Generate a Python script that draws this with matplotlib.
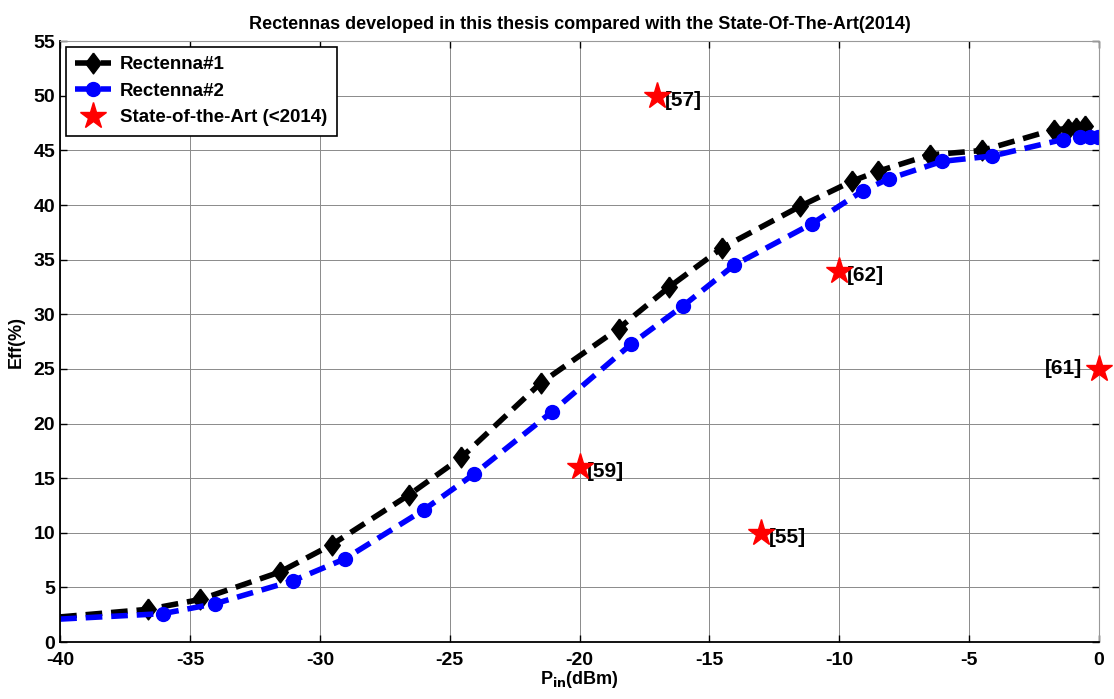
import numpy as np
import matplotlib
matplotlib.use("Agg")
import matplotlib.pyplot as plt

plt.rcParams['font.family'] = ['Liberation Sans', 'DejaVu Sans']
plt.rcParams['font.weight'] = 'bold'
plt.rcParams['axes.unicode_minus'] = False

# Rectenna#1 (black diamonds)
r1_pin = [-40, -36.6, -34.6, -31.55, -29.55, -26.55, -24.55, -21.5, -18.5, -16.55, -14.5,
          -11.5, -9.5, -8.5, -6.5, -4.5, -1.75, -1.2, -0.9, -0.55]
r1_eff = [2.3, 3.0, 3.9, 6.4, 8.9, 13.5, 16.9, 23.7, 28.7, 32.5, 36.1,
          39.9, 42.2, 43.1, 44.6, 45.0, 46.9, 47.0, 47.1, 47.2]
r1_marked = list(range(1, len(r1_pin)))

# Rectenna#2 (blue circles)
r2_pin = [-40, -36.05, -34.05, -31.05, -29.05, -26.0, -24.05, -21.05, -18.0, -16.0, -14.05,
          -11.05, -9.1, -8.1, -6.05, -4.1, -1.4, -0.73, -0.35, -0.05]
r2_eff = [2.1, 2.6, 3.5, 5.6, 7.6, 12.1, 15.4, 21.1, 27.3, 30.8, 34.5,
          38.3, 41.3, 42.4, 44.0, 44.5, 46.0, 46.2, 46.2, 46.2]
r2_marked = list(range(1, len(r2_pin)))

# State-of-the-art points
sota_pin = [-17, -10, 0, -20, -13]
sota_eff = [50, 34, 25, 16, 10]
sota_ref = ['[57]', '[62]', '[61]', '[59]', '[55]']

# matlab style diamond, a bit wider than matplotlib's 'd'
diamond = [(0, 1), (0.75, 0), (0, -1), (-0.75, 0), (0, 1)]

fig = plt.figure(figsize=(11.14, 6.99), dpi=100)
ax = fig.add_axes([0.054, 0.0815, 0.9325, 0.8595])

ax.plot(r1_pin, r1_eff, '--', color='black', lw=4, dashes=(3, 1.6),
        marker=diamond, markersize=15, markevery=r1_marked, label='Rectenna#1')
ax.plot(r2_pin, r2_eff, '--', color='blue', lw=4, dashes=(3, 1.6),
        marker='o', markersize=10, markevery=r2_marked, label='Rectenna#2')
ax.plot(sota_pin, sota_eff, linestyle='none', marker='*', color='red',
        markersize=20, clip_on=False, zorder=5, label='State-of-the-Art (<2014)')

for x, y, t in zip(sota_pin, sota_eff, sota_ref):
    if x >= 0:
        ax.text(x - 0.65, y, t, ha='right', va='center', fontsize=15, fontweight='bold')
    else:
        ax.text(x + 0.3, y - 0.4, t, ha='left', va='center', fontsize=15, fontweight='bold')

ax.set_xlim(-40, 0)
ax.set_ylim(0, 55)
ax.set_xticks(np.arange(-40, 1, 5))
ax.set_yticks(np.arange(0, 56, 5))
ax.tick_params(direction='in', top=True, right=True, labelsize=14, length=5, width=1)
ax.tick_params(axis='x', pad=7)
for lab in ax.get_xticklabels() + ax.get_yticklabels():
    lab.set_fontweight('bold')
ax.grid(True, color='#8a8a8a', linestyle='-', linewidth=0.7)
ax.spines['left'].set_linewidth(1.3)
ax.spines['bottom'].set_linewidth(1.3)
ax.spines['top'].set_color('#999999')
ax.spines['right'].set_color('#999999')

ax.set_title('Rectennas developed in this thesis compared with the State-Of-The-Art(2014)',
             fontsize=13, fontweight='bold', pad=9)
ax.set_xlabel(r'P$_{\mathbf{in}}$(dBm)', fontsize=13, fontweight='bold', labelpad=0)
ax.set_ylabel('Eff(%)', fontsize=13, fontweight='bold', labelpad=6)

leg = ax.legend(loc='upper left', fancybox=False, framealpha=1,
                edgecolor='black', borderaxespad=0.3, handlelength=1.9, handletextpad=0.5,
                labelspacing=0.5, borderpad=0.5, prop={'weight': 'bold', 'size': 13.5})
leg.get_frame().set_linewidth(1.2)

plt.savefig('out.png', dpi=100)
